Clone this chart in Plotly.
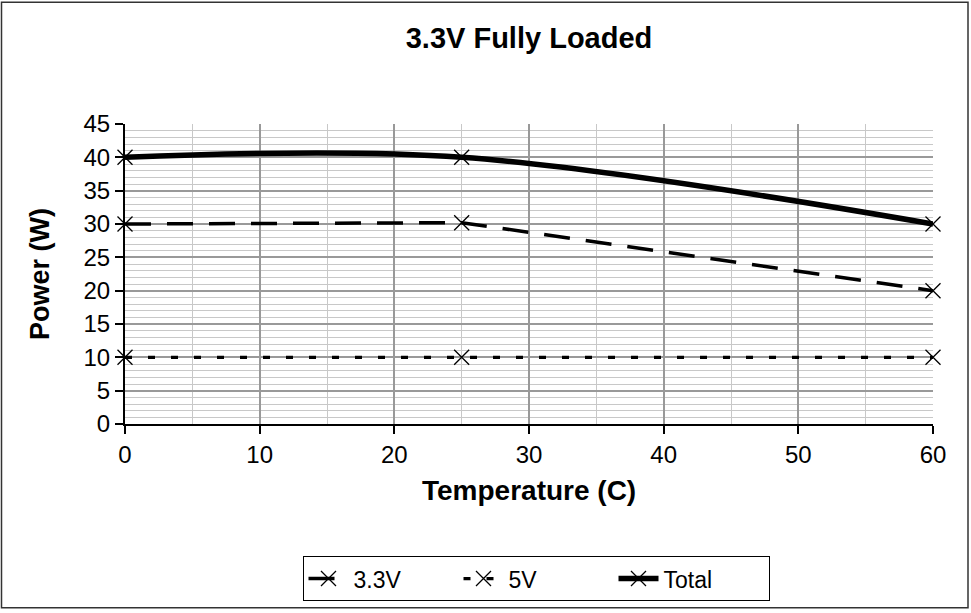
import plotly.graph_objects as go

# Data
temperature = [0, 25, 60]
v33 = [30, 30.2, 20]
v5 = [10, 10, 10]
total = [40, 40, 30]

FONT = "Liberation Sans, Arial, sans-serif"

L, R, T, B = 125, 38, 124, 187
W, H = 971, 613
PW, PH = W - L - R, H - T - B


def px2paper_x(px):
    return (px - L) / PW


def px2paper_y(py):
    return (H - B - py) / PH


fig = go.Figure()

marker = dict(symbol="x-thin-open", size=15, color="black", line=dict(color="black", width=1.3))

fig.add_trace(go.Scatter(x=temperature, y=v33, name="3.3V", mode="lines+markers", cliponaxis=False,
                         line=dict(color="black", width=3.5, dash="26px,16px"),
                         marker=marker))
fig.add_trace(go.Scatter(x=temperature, y=v5, name="5V", mode="lines+markers", cliponaxis=False,
                         line=dict(color="black", width=3.3, dash="7px,16px"),
                         marker=marker))
fig.add_trace(go.Scatter(x=temperature, y=total, name="Total", mode="lines+markers", cliponaxis=False,
                         line=dict(color="black", width=5.5, shape="spline", smoothing=1),
                         marker=marker))

fig.update_layout(
    width=W, height=H,
    margin=dict(l=L, r=R, t=T, b=B),
    paper_bgcolor="white", plot_bgcolor="white",
    font=dict(family=FONT, color="black", size=24),
    title=dict(text="<b>3.3V Fully Loaded</b>", font=dict(family=FONT, size=29, color="black"),
               xref="paper", x=0.5, xanchor="center", yref="container", y=1 - 38 / H, yanchor="middle"),
    showlegend=True,
    legend=dict(orientation="h", xref="paper", x=px2paper_x(536), xanchor="center",
                yref="paper", y=px2paper_y(559), yanchor="top",
                bordercolor="black", borderwidth=1, bgcolor="white",
                font=dict(family=FONT, size=23, color="black"),
                entrywidth=100, entrywidthmode="pixels", itemwidth=40),
    xaxis=dict(range=[0, 60], dtick=10, tick0=0, showline=True, linecolor="black", linewidth=2,
               ticks="outside", ticklen=8, tickwidth=2, tickcolor="black",
               showgrid=True, gridcolor="#999999", gridwidth=1.5, zeroline=False,
               tickfont=dict(family=FONT, size=24, color="black"),
               minor=dict(dtick=5, tick0=0, showgrid=True, gridcolor="#c8c8c8", gridwidth=1, ticks="")),
    yaxis=dict(range=[0, 45], dtick=5, tick0=0, showline=True, linecolor="black", linewidth=2,
               ticks="outside", ticklen=8, tickwidth=2, tickcolor="black",
               showgrid=True, gridcolor="#999999", gridwidth=1.5, zeroline=False,
               tickfont=dict(family=FONT, size=24, color="black"),
               minor=dict(dtick=1, tick0=0, showgrid=True, gridcolor="#c8c8c8", gridwidth=1, ticks="")),
    annotations=[
        dict(text="<b>Temperature (C)</b>", xref="paper", yref="paper",
             x=px2paper_x(529), y=px2paper_y(493), xanchor="center", yanchor="middle",
             showarrow=False, font=dict(family=FONT, size=28, color="black")),
        dict(text="<b>Power (W)</b>", xref="paper", yref="paper", textangle=-90,
             x=px2paper_x(40), y=px2paper_y(275), xanchor="center", yanchor="middle",
             showarrow=False, font=dict(family=FONT, size=27, color="black")),
    ],
    shapes=[
        dict(type="rect", xref="paper", yref="paper", layer="above",
             x0=px2paper_x(1.5), x1=px2paper_x(968), y0=px2paper_y(611), y1=px2paper_y(1.5),
             line=dict(color="#333333", width=1.5), fillcolor="rgba(0,0,0,0)"),
    ],
)

fig.write_html("out.html", config={"displayModeBar": False},
               post_script="document.body.style.margin='0';document.body.style.padding='0';")
